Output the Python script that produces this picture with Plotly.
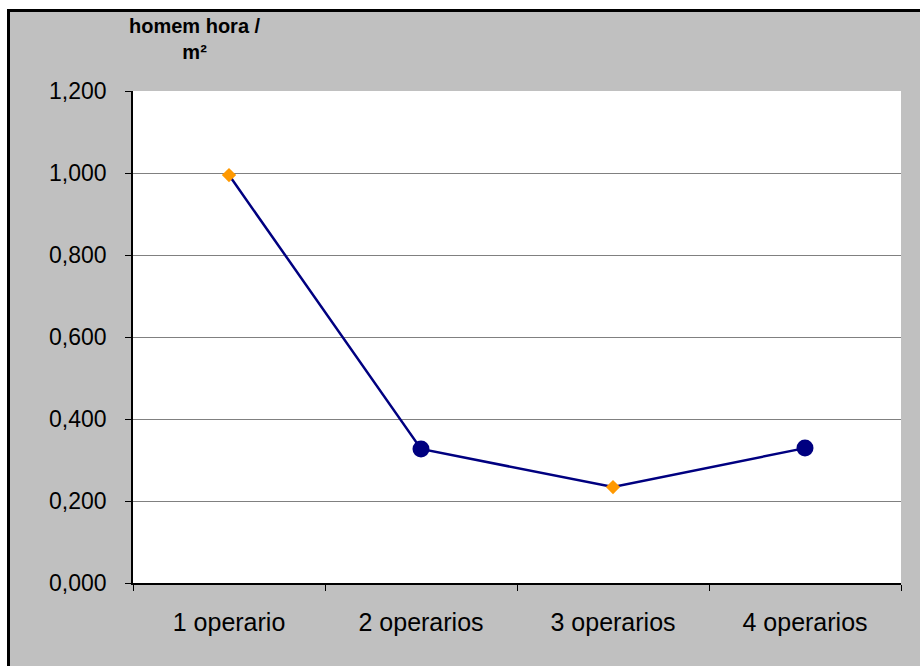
import plotly.graph_objects as go

# Productivity by crew size
categorias = ["1 operario", "2 operarios", "3 operarios", "4 operarios"]
homem_hora_m2 = [0.995, 0.327, 0.234, 0.329]
simbolos = ["diamond", "circle", "diamond", "circle"]
cores_marcador = ["#FF9900", "#000080", "#FF9900", "#000080"]
tamanhos = [11, 17, 11, 17]
ticks_y = [0, 0.2, 0.4, 0.6, 0.8, 1.0, 1.2]

W, H = 920, 666
L, R, T, B = 133, 19, 91, 83
pw, ph = W - L - R, H - T - B


def px_x(x):
    return (x - L) / pw


def px_y(y):
    return (H - B - y) / ph


fig = go.Figure()
fig.add_trace(go.Scatter(
    x=categorias, y=homem_hora_m2, mode="lines+markers",
    line=dict(color="#000080", width=2.5),
    marker=dict(symbol=simbolos, color=cores_marcador, size=tamanhos,
                opacity=1, line=dict(width=0)),
    showlegend=False, hoverinfo="x+y",
))

fnt = "Liberation Sans, Arial, sans-serif"
fig.update_layout(
    width=W, height=H,
    margin=dict(l=L, r=R, t=T, b=B, pad=0),
    paper_bgcolor="#C0C0C0", plot_bgcolor="white",
    separators=",.",
    font=dict(family=fnt, color="black", size=22),
    xaxis=dict(
        type="category", tickson="boundaries", ticks="outside", ticklen=6,
        tickcolor="black", showline=True, linecolor="black", linewidth=1.5,
        showgrid=False, tickfont=dict(size=25), ticklabelstandoff=16,
        range=[-0.5, 3.5],
    ),
    yaxis=dict(
        range=[0, 1.2], tickvals=ticks_y, tickformat=".3f", ticks="outside",
        ticklen=6, tickcolor="black", showline=True, linecolor="black",
        linewidth=1.5, showgrid=True, gridcolor="#808080", gridwidth=1,
        zeroline=False, tickfont=dict(size=23), ticklabelstandoff=14,
    ),
    shapes=[
        # white strips outside the frame
        dict(type="rect", xref="paper", yref="paper", x0=px_x(-5), x1=px_x(W + 5),
             y0=px_y(-5), y1=px_y(9), fillcolor="white", line=dict(width=0), layer="above"),
        dict(type="rect", xref="paper", yref="paper", x0=px_x(-5), x1=px_x(7),
             y0=px_y(H + 5), y1=px_y(-5), fillcolor="white", line=dict(width=0), layer="above"),
        # black frame edges
        dict(type="line", xref="paper", yref="paper", x0=px_x(7), x1=px_x(W + 5),
             y0=px_y(10.5), y1=px_y(10.5), line=dict(color="black", width=3), layer="above"),
        dict(type="line", xref="paper", yref="paper", x0=px_x(8.5), x1=px_x(8.5),
             y0=px_y(9), y1=px_y(H + 5), line=dict(color="black", width=3), layer="above"),
    ],
    annotations=[dict(
        text="<b>homem hora /<br>m²</b>", xref="paper", yref="paper",
        x=px_x(195), y=px_y(39), xanchor="center", yanchor="middle",
        showarrow=False, align="center", font=dict(size=20, family=fnt),
    )],
)

fig.write_html("out.html")
